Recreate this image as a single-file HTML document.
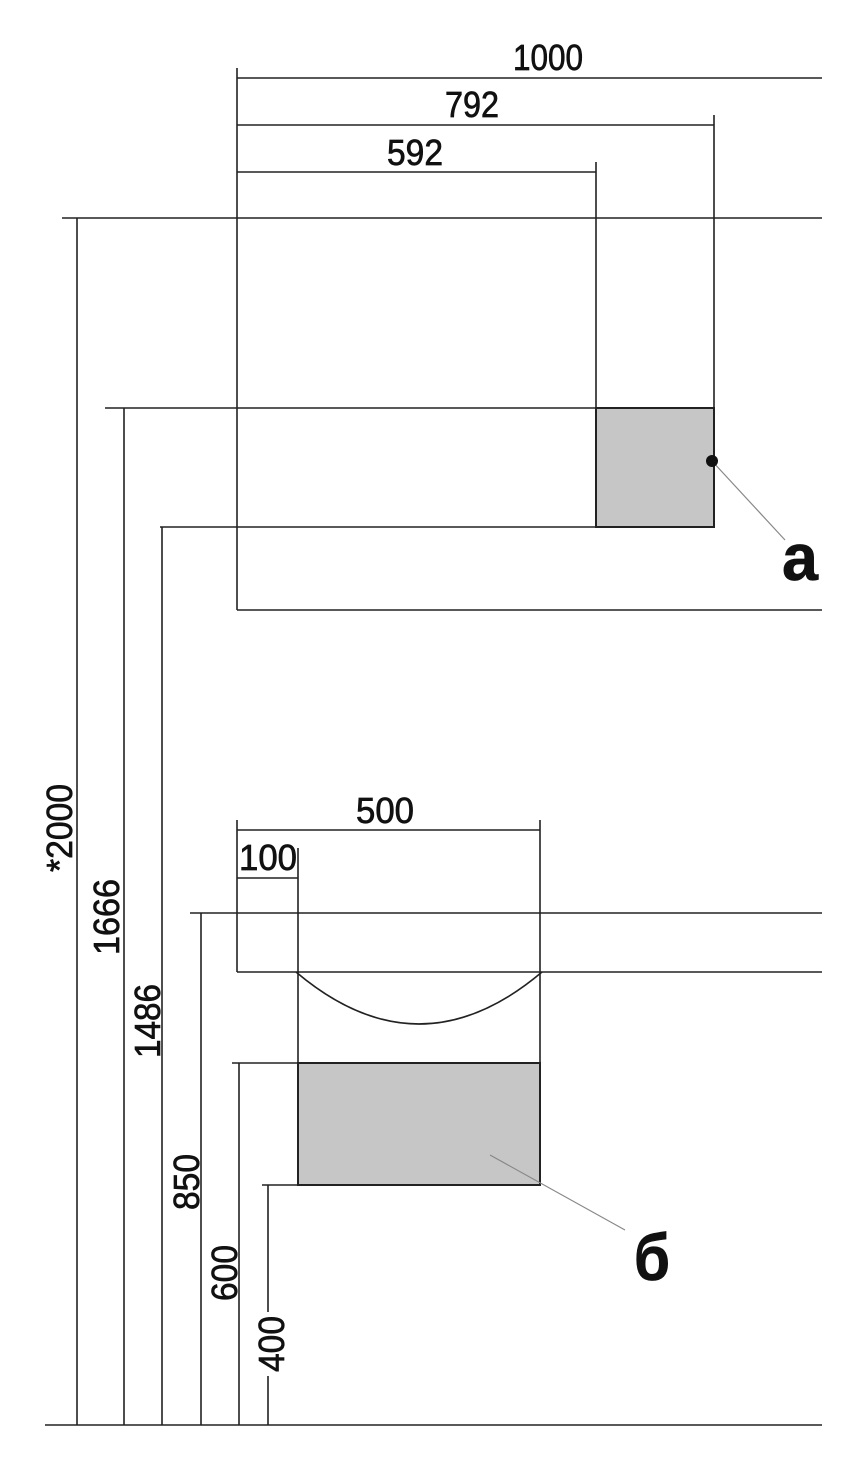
<!DOCTYPE html>
<html><head><style>body{margin:0;background:#fff}svg{display:block}text{font-family:"Liberation Sans",sans-serif;font-size:36px;fill:#111;stroke:#111;stroke-width:0.7}</style></head><body>
<svg width="863" height="1470" viewBox="0 0 863 1470">
<g stroke="#222" stroke-width="1.6" fill="none">
<line x1="237" y1="78" x2="822" y2="78"/>
<line x1="237" y1="68" x2="237" y2="610"/>
<line x1="237" y1="125" x2="714" y2="125"/>
<line x1="714" y1="115" x2="714" y2="527"/>
<line x1="237" y1="172" x2="596" y2="172"/>
<line x1="596" y1="162" x2="596" y2="527"/>
<line x1="62" y1="218" x2="822" y2="218"/>
<line x1="105" y1="408" x2="714" y2="408"/>
<line x1="160" y1="527" x2="714" y2="527"/>
<line x1="237" y1="610" x2="822" y2="610"/>
<line x1="237" y1="830" x2="540" y2="830"/>
<line x1="237" y1="820" x2="237" y2="972"/>
<line x1="540" y1="820" x2="540" y2="1185"/>
<line x1="237" y1="878" x2="298" y2="878"/>
<line x1="298" y1="848" x2="298" y2="1185"/>
<line x1="190" y1="913" x2="822" y2="913"/>
<line x1="237" y1="972" x2="822" y2="972"/>
<path d="M296 972 Q419 1076 542 972"/>
<line x1="232" y1="1063" x2="540" y2="1063"/>
<line x1="262" y1="1185" x2="540" y2="1185"/>
<line x1="77" y1="218" x2="77" y2="1425"/>
<line x1="124" y1="408" x2="124" y2="1425"/>
<line x1="162" y1="527" x2="162" y2="1425"/>
<line x1="201" y1="913" x2="201" y2="1425"/>
<line x1="239" y1="1063" x2="239" y2="1425"/>
<line x1="268" y1="1185" x2="268" y2="1312"/>
<line x1="268" y1="1376" x2="268" y2="1425"/>
<line x1="45" y1="1425" x2="822" y2="1425"/>
</g>
<rect x="596" y="408" width="118" height="119" fill="#c6c6c6" stroke="#222" stroke-width="2"/>
<rect x="298" y="1063" width="242" height="122" fill="#c6c6c6" stroke="#222" stroke-width="2"/>
<line x1="712" y1="461" x2="785" y2="540" stroke="#888" stroke-width="1.2"/>
<circle cx="712" cy="461" r="6" fill="#111"/>
<line x1="490" y1="1155" x2="625" y2="1230" stroke="#888" stroke-width="1.2"/>
<text x="548" y="70" text-anchor="middle" textLength="70" lengthAdjust="spacingAndGlyphs">1000</text>
<text x="472" y="117" text-anchor="middle" textLength="54" lengthAdjust="spacingAndGlyphs">792</text>
<text x="415" y="165" text-anchor="middle" textLength="56" lengthAdjust="spacingAndGlyphs">592</text>
<text x="385" y="823" text-anchor="middle" textLength="58" lengthAdjust="spacingAndGlyphs">500</text>
<text x="268" y="870" text-anchor="middle" textLength="58" lengthAdjust="spacingAndGlyphs">100</text>
<text transform="translate(72,828) rotate(-90)" text-anchor="middle" textLength="88" lengthAdjust="spacingAndGlyphs">*2000</text>
<text transform="translate(119,917) rotate(-90)" text-anchor="middle" textLength="76" lengthAdjust="spacingAndGlyphs">1666</text>
<text transform="translate(160,1021) rotate(-90)" text-anchor="middle" textLength="74" lengthAdjust="spacingAndGlyphs">1486</text>
<text transform="translate(199,1182) rotate(-90)" text-anchor="middle" textLength="56" lengthAdjust="spacingAndGlyphs">850</text>
<text transform="translate(237,1273) rotate(-90)" text-anchor="middle" textLength="56" lengthAdjust="spacingAndGlyphs">600</text>
<text transform="translate(284,1344) rotate(-90)" text-anchor="middle" textLength="56" lengthAdjust="spacingAndGlyphs">400</text>
<text x="800" y="580" text-anchor="middle" style="font-size:66px;font-weight:bold" textLength="36" lengthAdjust="spacingAndGlyphs">a</text>
<text x="652" y="1280" text-anchor="middle" style="font-size:66px;font-weight:bold" textLength="36" lengthAdjust="spacingAndGlyphs">б</text>
</svg>
</body></html>
